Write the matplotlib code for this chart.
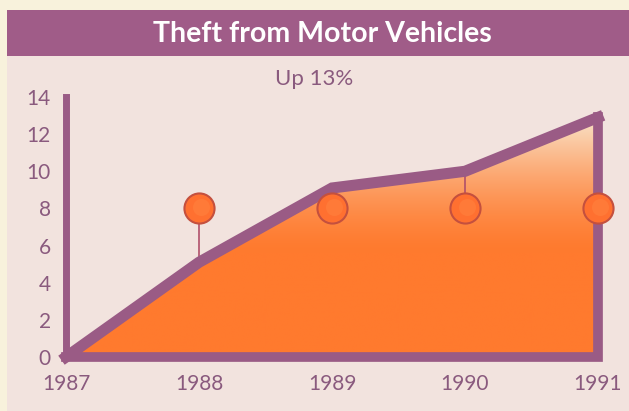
import numpy as np
import matplotlib

matplotlib.use("Agg")
import matplotlib.pyplot as plt
from matplotlib.patches import Rectangle, Polygon


years = [1987, 1988, 1989, 1990, 1991]
thefts = [0, 5.1, 9.1, 10.0, 12.9]
pin_years = [1988, 1989, 1990, 1991]
pin_level = 8
y_ticks = [0, 2, 4, 6, 8, 10, 12, 14]
title = "Theft from Motor Vehicles"
note = "Up 13%"

PURPLE = "#9a5b85"
LABEL = "#8a5a7e"
ORANGE = "#ff7a2e"
W, H = 629, 411

fig = plt.figure(figsize=(W / 100, H / 100), dpi=100)
fig.patch.set_facecolor("#f8f2dc")

# background panel and title band, in pixel coordinates
bg = fig.add_axes([0, 0, 1, 1])
bg.set_xlim(0, W)
bg.set_ylim(H, 0)
bg.axis("off")
bg.add_patch(Rectangle((7, 56), W - 7, H - 56, color="#f2e3de", lw=0))
bg.add_patch(Rectangle((7, 10), W - 7, 46, color="#a05c88", lw=0))
bg.text(322, 34, title, ha="center", va="center", color="white",
        fontsize=20.5, fontweight="bold", family="Lato")
bg.text(314, 79, note, ha="center", va="center", color=LABEL,
        fontsize=16, family="Lato")

# data axes: 1987..1991 across, 0..14 up
ax = fig.add_axes([66 / W, 1 - 357 / H, (598 - 66) / W, (357 - 97) / H])
ax.set_xlim(1987, 1991)
ax.set_ylim(0, 14)
ax.patch.set_alpha(0)
for s in ax.spines.values():
    s.set_visible(False)
ax.set_xticks(years)
ax.set_yticks(y_ticks)
ax.tick_params(length=0, labelcolor=LABEL, labelsize=15)
ax.tick_params(axis="y", pad=11)
ax.tick_params(axis="x", pad=12)
for lab in ax.get_xticklabels() + ax.get_yticklabels():
    lab.set_family("Lato")

# gradient fill under the line, clipped to the area polygon
grad = np.linspace(0, 1, 256).reshape(-1, 1)
grad = np.clip((grad - 0.4) / 0.55, 0, 1) ** 1.5
c0 = np.array(matplotlib.colors.to_rgb(ORANGE))
c1 = np.array(matplotlib.colors.to_rgb("#f8ecd6"))
img = c0[None, None, :] * (1 - grad[..., None]) + c1[None, None, :] * grad[..., None]
img = np.repeat(img, 4, axis=1)
im = ax.imshow(img, extent=[1987, 1991, 0, 14], origin="lower", aspect="auto", zorder=1)
poly = Polygon(list(zip(years, thefts)) + [(1991, 0), (1987, 0)],
               closed=True, facecolor="none", edgecolor="none")
ax.add_patch(poly)
im.set_clip_path(poly)

# outline: data line, right edge, baseline and y axis
ax.plot(years, thefts, color=PURPLE, lw=8, solid_joinstyle="miter", zorder=3, clip_on=False)
ax.plot([1991, 1991, 1987], [thefts[-1], 0, 0], color=PURPLE, lw=7,
        solid_joinstyle="miter", zorder=3, clip_on=False)
ax.plot([1987, 1987], [0, 14], color=PURPLE, lw=5, zorder=3, clip_on=False)

# pins at the 8 level, with stems to the line
for yr in pin_years:
    val = thefts[years.index(yr)]
    if abs(val - pin_level) > 1.2:
        ax.plot([yr, yr], [pin_level, val], color="#b0506a", lw=1.2, zorder=2)
    ax.scatter([yr], [pin_level], s=470, color="#ff7030", edgecolor="#c4503e",
               linewidth=1.5, zorder=4, clip_on=False)
    ax.scatter([yr + 0.015], [pin_level + 0.1], s=150, color="#ff8540",
               linewidth=0, zorder=5, alpha=0.5, clip_on=False)

fig.savefig("out.png", dpi=100, facecolor=fig.get_facecolor())
